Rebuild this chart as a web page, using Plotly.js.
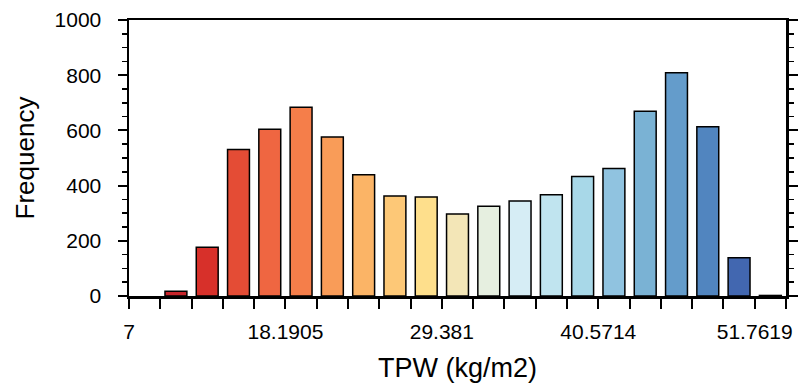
<!DOCTYPE html>
<html>
<head>
<meta charset="utf-8">
<script src="https://cdn.plot.ly/plotly-3.0.1.min.js"></script>
<style>html,body{margin:0;padding:0;background:#fff;}#chart{width:801px;height:384px;}</style>
</head>
<body>
<div id="chart"></div>
<script>
// Bin centers (TPW, kg/m2)
const binCenters = [10.357, 12.595, 14.833, 17.071, 19.310, 21.548, 23.786, 26.024, 28.262, 30.500,
                    32.738, 34.976, 37.214, 39.452, 41.690, 43.929, 46.167, 48.405, 50.643, 52.881];
// Frequency per bin
const frequency = [17, 177, 531, 604, 684, 576, 439, 362, 359, 297,
                   325, 344, 367, 433, 462, 669, 809, 613, 139, 2];
const barColors = ['#c8252b', '#d7302a', '#e44c35', '#ef6641', '#f57e4a', '#f99c58', '#fbb466', '#fdc877', '#fedf8c', '#f3e6b7',
                   '#e6efe0', '#d6edf5', '#c0e4ef', '#a8d8e8', '#90c3e0', '#7ab2d4', '#649ccb', '#5185bf', '#4267b0', '#313695'];
// Axis ticks
const xTickVals = [7, 18.1905, 29.381, 40.5714, 51.7619];
const xTickText = ['7', '18.1905', '29.381', '40.5714', '51.7619'];
const xRange = [7, 54];
const binWidth = 47 / 21;
const yTickVals = [0, 200, 400, 600, 800, 1000];

const font = 'Liberation Sans, Arial, Helvetica, sans-serif';

Plotly.newPlot('chart', [{
  type: 'bar',
  x: binCenters,
  y: frequency,
  marker: {color: barColors, line: {color: '#000', width: 1.5}},
  hoverinfo: 'x+y'
}], {
  width: 801, height: 384,
  margin: {l: 129, r: 15, t: 20, b: 88},
  paper_bgcolor: '#fff', plot_bgcolor: '#fff',
  bargap: 0.3,
  showlegend: false,
  font: {family: font, color: '#000'},
  xaxis: {
    range: xRange,
    tickmode: 'array', tickvals: xTickVals, ticktext: xTickText,
    ticks: 'outside', ticklen: 10, tickwidth: 2, tickcolor: '#000',
    ticklabelstandoff: 5,
    minor: {tickmode: 'linear', tick0: 7, dtick: binWidth, ticks: 'outside', ticklen: 10, tickwidth: 2, tickcolor: '#000', showgrid: false},
    showline: true, linewidth: 2.5, linecolor: '#000', mirror: true,
    showgrid: false, zeroline: false,
    tickfont: {size: 21, family: font},
    title: {text: 'TPW (kg/m2)', font: {size: 27, family: font}, standoff: 17}
  },
  yaxis: {
    range: [0, 1000],
    tickmode: 'array', tickvals: yTickVals,
    ticks: 'outside', ticklen: 9, tickwidth: 2, tickcolor: '#000',
    ticklabelstandoff: 12,
    minor: {dtick: 50, ticks: 'outside', ticklen: 5, tickwidth: 1.5, tickcolor: '#000', showgrid: false},
    showline: true, linewidth: 2.5, linecolor: '#000', mirror: 'ticks',
    showgrid: false, zeroline: false,
    tickfont: {size: 21, family: font},
    title: {text: 'Frequency', font: {size: 26, family: font}, standoff: 13}
  }
}, {displayModeBar: false, staticPlot: true});
</script>
</body>
</html>
